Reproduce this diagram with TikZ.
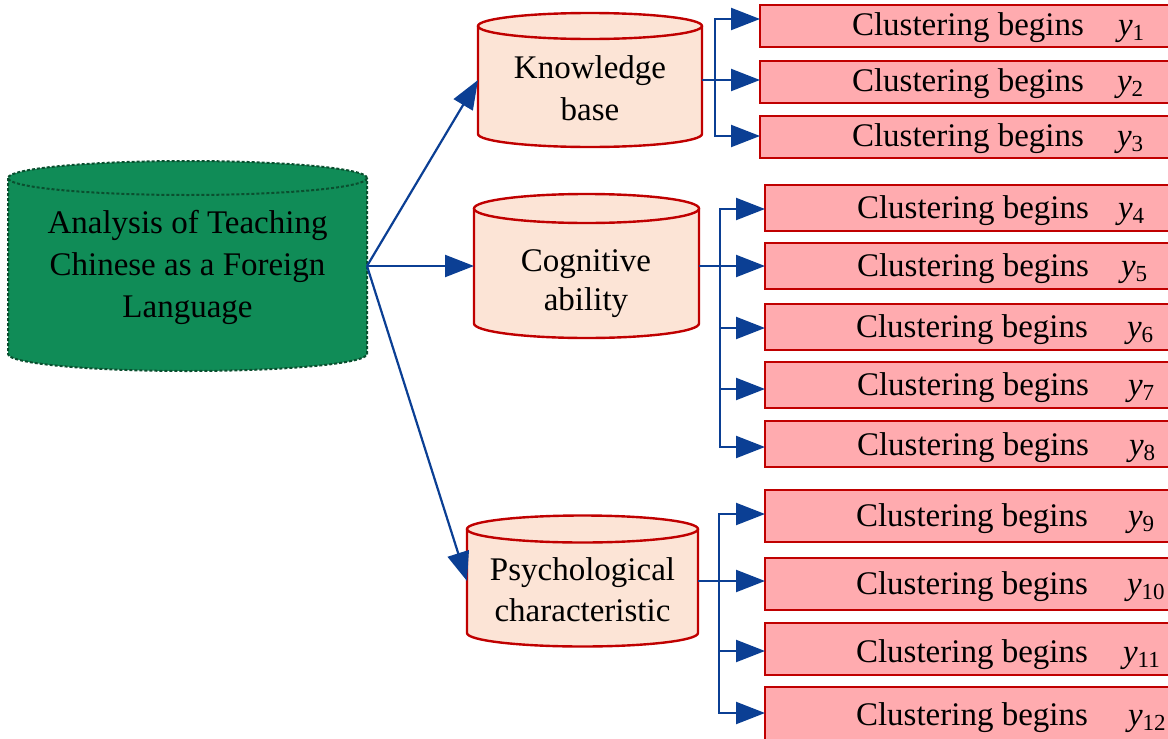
\documentclass[tikz,border=0pt]{standalone}
\usepackage{fontspec}
\setmainfont{Liberation Serif}
\usetikzlibrary{arrows.meta}

\definecolor{tealgreen}{HTML}{108C57}
\definecolor{darkgreen}{HTML}{0A4F2F}
\definecolor{peach}{HTML}{FCE4D6}
\definecolor{crim}{HTML}{C00000}
\definecolor{rosebox}{HTML}{FFABAF}
\definecolor{navy}{HTML}{0B3F94}

\tikzset{
  body/.style={rectangle, inner sep=0pt, outer sep=0pt},
  lbl/.style={inner sep=0pt, outer sep=0pt, font=\fontsize{33pt}{40pt}\selectfont},
  rootdrum/.style={fill=tealgreen, draw=darkgreen, line width=2pt, dash pattern=on 3pt off 2pt},
  subdrum/.style={fill=peach, draw=crim, line width=2.4pt},
  cbox/.style={rectangle, inner sep=0pt, outer sep=0pt, fill=rosebox, draw=crim,
    line width=2.2pt, minimum width=440pt},
  arr/.style={draw=navy, line width=2.2pt, -{Triangle[length=29pt,width=22pt]}},
}

% cylinder outline around a body node: #1 node, #2 x radius, #3 y radius, #4 style
\newcommand\drumshape[4]{%
  \path[#4, draw=none] (#1.north west) -- (#1.south west)
     arc[start angle=180, end angle=360, x radius=#2pt, y radius=#3pt]
     -- (#1.north east)
     arc[start angle=0, end angle=180, x radius=#2pt, y radius=#3pt] -- cycle;
  \path[#4, fill=none] (#1.north west) -- (#1.south west)
     arc[start angle=180, end angle=360, x radius=#2pt, y radius=#3pt] -- (#1.north east);
  \path[#4, fill=none] (#1.north) ellipse [x radius=#2pt, y radius=#3pt];
}
\newcommand\ylab[1]{{\itshape y}\raisebox{-5pt}{\fontsize{23pt}{23pt}\selectfont #1}}

\begin{document}
\begin{tikzpicture}[x=1pt, y=1pt]
\useasboundingbox (0,0) rectangle (1168,-739);

% cylinder bodies
\node[body, minimum width=359pt, minimum height=176pt] (ga) at (187.5,-266) {};
\node[body, minimum width=224pt, minimum height=108pt] (kb) at (590,-80) {};
\node[body, minimum width=225pt, minimum height=115pt] (ca) at (586.5,-266) {};
\node[body, minimum width=231pt, minimum height=104pt] (pc) at (582.5,-581) {};

\drumshape{ga}{179.5}{17}{rootdrum}
\drumshape{kb}{112}{13}{subdrum}
\drumshape{ca}{112.5}{14.5}{subdrum}
\drumshape{pc}{115.5}{13.5}{subdrum}

% cylinder captions (anchored on the baseline of the last line)
\node[lbl, align=center, anchor=base, font=\fontsize{33pt}{42pt}\selectfont] (gat) at (187.5,-317)
  {Analysis of Teaching\\Chinese as a Foreign\\Language};
\node[lbl, align=center, anchor=base, font=\fontsize{33pt}{42pt}\selectfont] (kbt) at (590,-120)
  {Knowledge\\base};
\node[lbl, align=center, anchor=base, font=\fontsize{33pt}{39pt}\selectfont] (cat) at (586,-310)
  {Cognitive\\ability};
\node[lbl, align=center, anchor=base, font=\fontsize{33pt}{41pt}\selectfont] (pct) at (582.5,-621)
  {Psychological\\characteristic};

% result boxes
\foreach \i/\bx/\by/\bh/\bl/\tx/\sx in {
  1/760/5/42/35/852/1118,
  2/760/61/42/91/852/1117,
  3/760/116/42/146/852/1117,
  4/765/185/46/218/857/1118,
  5/765/243/46/276/857/1121,
  6/765/304/46/337/856/1127,
  7/765/362/46/395/857/1128,
  8/765/421/46/455/857/1129,
  9/765/490/52/526/856/1128,
  10/765/558/52/594/856/1127,
  11/765/623/52/662/856/1123,
  12/765/687/54/725/856/1128}
{
  \node[cbox, anchor=north west, minimum height=\bh pt] (b\i) at (\bx,-\by) {};
  \node[lbl, anchor=base west] (t\i) at (\tx,-\bl) {Clustering begins};
  \node[lbl, anchor=base west] (s\i) at (\sx,-\bl) {\ylab{\i}};
}

% root to categories
\draw[arr] (ga.east) -- (kb.west);
\draw[arr] (ga.east) -- (ca.west);
\draw[arr] (ga.east) -- (pc.west);

% category branches
\coordinate (kj) at (715,-80);
\coordinate (cj) at (720,-266);
\coordinate (pj) at (719,-581);

\foreach \i/\dy in {1/7, 2/2, 3/1}
  \draw[arr] (kb.east) -- (kj) |- ([yshift=\dy pt]b\i.west);
\foreach \i/\dy in {4/-1, 5/0, 6/-1, 7/-4, 8/-3}
  \draw[arr] (ca.east) -- (cj) |- ([yshift=\dy pt]b\i.west);
\foreach \i/\dy in {9/2, 10/3, 11/-2, 12/1}
  \draw[arr] (pc.east) -- (pj) |- ([yshift=\dy pt]b\i.west);
\end{tikzpicture}
\end{document}
